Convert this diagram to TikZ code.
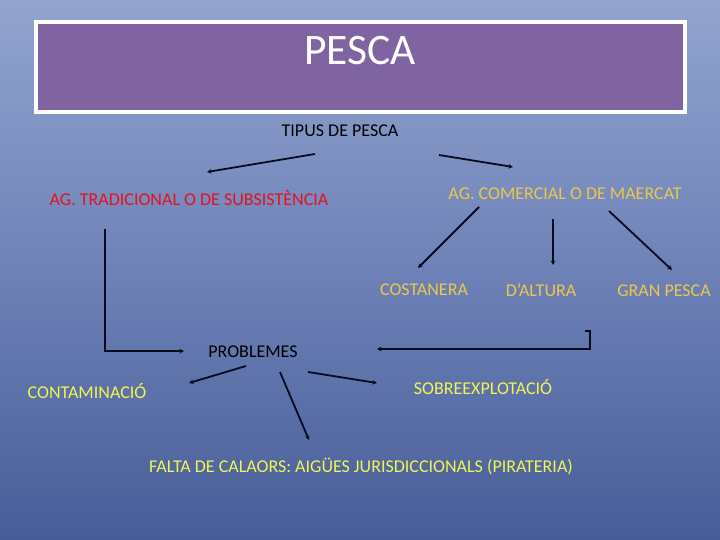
\documentclass[tikz,border=0pt]{standalone}
\usepackage{fontspec}
\setmainfont{Carlito}
\usetikzlibrary{arrows.meta}
\definecolor{bgtop}{RGB}{146,164,206}
\definecolor{bgmid}{RGB}{110,130,184}
\definecolor{bgbot}{RGB}{72,92,152}
\definecolor{titlefill}{RGB}{128,100,162}
\definecolor{redtxt}{RGB}{228,18,32}
\definecolor{goldtxt}{RGB}{236,200,72}
\definecolor{yeltxt}{RGB}{240,246,80}
\definecolor{linecol}{RGB}{10,10,30}
\tikzset{
  lbl/.style={inner sep=0pt, font=\fontsize{18}{21}\selectfont},
  conn/.style={draw=linecol, line width=1.8pt, -{Stealth[length=4.5pt,width=4.5pt]}},
}
\begin{document}
\begin{tikzpicture}[x=1pt,y=-1pt]
\useasboundingbox (0,0) rectangle (720,540);
\shade[top color=bgtop, bottom color=bgbot, middle color=bgmid] (0,0) rectangle (720,540);
% title
\node[draw=white, line width=4pt, fill=titlefill, minimum width=649pt, minimum height=90pt, inner sep=0pt] (titlebox) at (360,67) {};
\node[inner sep=0pt, text=white, font=\fontsize{43.5}{50}\selectfont] (title) at (360,51) {PESCA};
% labels
\node[lbl, text=black] (tipus) at (340,131) {TIPUS DE PESCA};
\node[lbl, text=redtxt] (trad) at (189,198) {AG. TRADICIONAL O DE SUBSISTÈNCIA};
\node[lbl, text=goldtxt] (comer) at (565,194) {AG. COMERCIAL O DE MAERCAT};
\node[lbl, text=goldtxt] (cost) at (424,290) {COSTANERA};
\node[lbl, text=goldtxt] (alt) at (541,290) {D’ALTURA};
\node[lbl, text=goldtxt] (gran) at (664,291) {GRAN PESCA};
\node[lbl, text=black] (prob) at (253,352) {PROBLEMES};
\node[lbl, text=yeltxt] (cont) at (87,391) {CONTAMINACIÓ};
\node[lbl, text=yeltxt] (sobre) at (483,387) {SOBREEXPLOTACIÓ};
\node[lbl, text=yeltxt] (falta) at (361,467) {FALTA DE CALAORS: AIGÜES JURISDICCIONALS (PIRATERIA)};
% connector ends
\coordinate (a1s) at (315,154); \coordinate (a1e) at (207,172);
\coordinate (a2s) at (439,155); \coordinate (a2e) at (513,167);
\coordinate (c1s) at (479,207); \coordinate (c1e) at (418,268);
\coordinate (c2s) at (553,219); \coordinate (c2e) at (553,265);
\coordinate (c3s) at (609,211); \coordinate (c3e) at (672,270);
\coordinate (l1s) at (105,229); \coordinate (l1c) at (105,351); \coordinate (l1e) at (184,351);
\coordinate (r1s) at (585,331); \coordinate (r1c) at (590,331); \coordinate (r1d) at (590,349); \coordinate (r1e) at (377,349);
\coordinate (p1s) at (246,366); \coordinate (p1e) at (189,383);
\coordinate (p2s) at (280,372); \coordinate (p2e) at (309,440);
\coordinate (p3s) at (308,372); \coordinate (p3e) at (377,383);
% connectors
\draw[conn] (a1s) -- (a1e);
\draw[conn] (a2s) -- (a2e);
\draw[conn] (c1s) -- (c1e);
\draw[conn] (c2s) -- (c2e);
\draw[conn] (c3s) -- (c3e);
\draw[conn] (l1s) -- (l1c) -- (l1e);
\draw[conn] (r1s) -- (r1c) -- (r1d) -- (r1e);
\draw[conn] (p1s) -- (p1e);
\draw[conn] (p2s) -- (p2e);
\draw[conn] (p3s) -- (p3e);
\end{tikzpicture}
\end{document}
